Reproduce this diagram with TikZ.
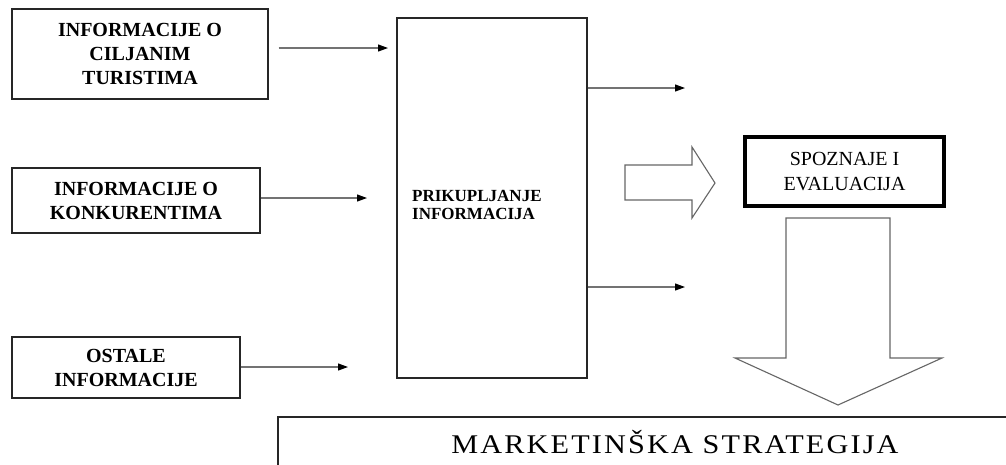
\documentclass[tikz,border=0pt]{standalone}
\usepackage{fontspec}
\setmainfont{Liberation Serif}
\usetikzlibrary{arrows.meta}
\tikzset{
  infobox/.style={draw=black!85, line width=1.3pt, align=center, inner sep=0pt,
    font=\fontsize{20}{24}\selectfont\bfseries},
  bigbox/.style={draw=black!85, line width=1.3pt, inner sep=0pt},
  thickbox/.style={draw=black, line width=4.5pt, align=center, inner sep=0pt,
    font=\fontsize{20}{25}\selectfont},
  arr/.style={draw=black!55, line width=1.1pt, -{Triangle[length=10pt,width=7pt,color=black]}},
  blockarrow/.style={draw=black!60, line width=1.1pt, fill=white, line join=miter},
}
\begin{document}
\begin{tikzpicture}[x=1pt,y=-1pt]
\clip (0,0) rectangle (1006,464);
\fill[white] (0,0) rectangle (1006,464);

% left boxes
\node[infobox, minimum width=256pt, minimum height=90pt] (b1) at (140,54) {INFORMACIJE O\\CILJANIM\\TURISTIMA};
\node[infobox, minimum width=248pt, minimum height=65pt] (b2) at (136,200.5) {INFORMACIJE O\\KONKURENTIMA};
\node[infobox, minimum width=228pt, minimum height=61pt] (b3) at (126,367.5) {OSTALE\\INFORMACIJE};

% big box
\node[bigbox, minimum width=190pt, minimum height=360pt] (big) at (492,198) {};
\node[anchor=west, align=left, inner sep=0pt, font=\fontsize{17}{18}\selectfont\bfseries] (bt) at (412,205) {PRIKUPLJANJE\\INFORMACIJA};

% evaluation box
\node[thickbox, minimum width=199pt, minimum height=69pt] (ev) at (844.5,171.5) {SPOZNAJE I\\EVALUACIJA};

% bottom box
\node[draw=black!85, line width=1.6pt, minimum width=740pt, minimum height=60pt, anchor=north west, inner sep=0pt] (ms) at (277,416) {};
\node[inner sep=0pt, font=\fontsize{27}{30}\selectfont\addfontfeatures{FakeStretch=1.12,LetterSpace=8}] (mst) at (675,442) {MARKETINŠKA STRATEGIJA};

% input arrows
\coordinate (t1) at (388,48);
\coordinate (t2) at (367,198);
\coordinate (t3) at (348,367);
\draw[arr] ([xshift=10pt]b1.east |- t1) -- (t1);
\draw[arr] (b2.east |- t2) -- (t2);
\draw[arr] (b3.east |- t3) -- (t3);

% output arrows
\coordinate (o1) at (685,88);
\coordinate (o2) at (685,287);
\draw[arr] (big.east |- o1) -- (o1);
\draw[arr] (big.east |- o2) -- (o2);

% block arrows
\draw[blockarrow] (625,165) -- (692,165) -- (692,147) -- (715,183) -- (692,218) -- (692,200) -- (625,200) -- cycle;
\draw[blockarrow] (786,218) -- (890,218) -- (890,358) -- (942,358) -- (838,405) -- (735,358) -- (786,358) -- cycle;
\end{tikzpicture}
\end{document}
